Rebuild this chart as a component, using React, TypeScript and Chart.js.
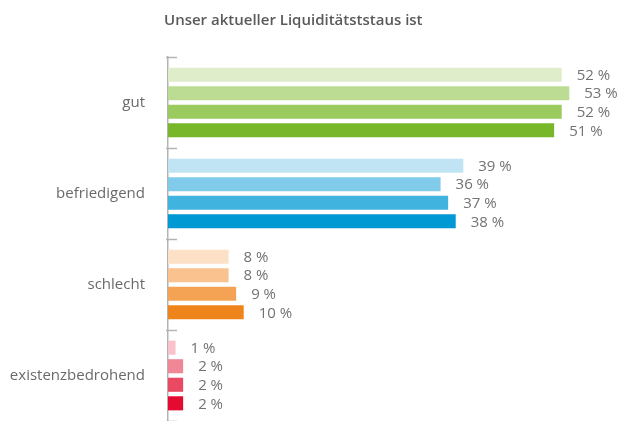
import React, { useEffect, useRef } from "react";
import { Chart, registerables } from "chart.js";

Chart.register(...registerables);

const TITLE = "Unser aktueller Liquiditätststaus ist";
const categories = ["gut", "befriedigend", "schlecht", "existenzbedrohend"];
const series1 = [52, 39, 8, 1];
const series2 = [53, 36, 8, 2];
const series3 = [52, 37, 9, 2];
const series4 = [51, 38, 10, 2];
const seriesNames = ["Reihe 1", "Reihe 2", "Reihe 3", "Reihe 4"];
const palette1 = ["#dfedcb", "#c0e4f3", "#fce1c7", "#f8c1cb"];
const palette2 = ["#bcdc93", "#80cbe9", "#f9c28e", "#f08797"];
const palette3 = ["#9bca5e", "#40b3df", "#f4a355", "#ea4962"];
const palette4 = ["#79b72a", "#0099d4", "#f0841c", "#e30b2f"];

const FONT = "'Open Sans', 'DejaVu Sans', sans-serif";

const titlePlugin = {
  id: "customTitle",
  afterDraw(chart: any) {
    const ctx = chart.ctx;
    ctx.save();
    ctx.font = `600 15px ${FONT}`;
    ctx.fillStyle = "#5a5a5a";
    ctx.textAlign = "left";
    ctx.textBaseline = "alphabetic";
    ctx.fillText(TITLE, 164, 25);
    ctx.restore();
  },
};

const tickPlugin = {
  id: "innerTicks",
  afterDraw(chart: any) {
    const y = chart.scales.y;
    const ctx = chart.ctx;
    const band = y.getPixelForValue(1) - y.getPixelForValue(0);
    ctx.save();
    ctx.strokeStyle = "#b4b4b4";
    ctx.lineWidth = 1.5;
    for (let i = 0; i <= categories.length; i++) {
      const py = Math.round(y.getPixelForValue(i) - band / 2) + 0.5;
      ctx.beginPath();
      ctx.moveTo(chart.chartArea.left - 2, py);
      ctx.lineTo(chart.chartArea.left + 9, py);
      ctx.stroke();
    }
    ctx.restore();
  },
};

const valueLabelPlugin = {
  id: "valueLabels",
  afterDatasetsDraw(chart: any) {
    const ctx = chart.ctx;
    ctx.save();
    ctx.font = `15px ${FONT}`;
    ctx.fillStyle = "#727272";
    ctx.textAlign = "left";
    ctx.textBaseline = "middle";
    chart.data.datasets.forEach((ds: any, di: number) => {
      const meta = chart.getDatasetMeta(di);
      meta.data.forEach((bar: any, i: number) => {
        ctx.fillText(`${ds.data[i]} %`, bar.x + 15, bar.y + 1);
      });
    });
    ctx.restore();
  },
};

export default function App() {
  const ref = useRef<HTMLCanvasElement | null>(null);
  useEffect(() => {
    if (!ref.current) return;
    const values = [series1, series2, series3, series4];
    const palettes = [palette1, palette2, palette3, palette4];
    const chart = new Chart(ref.current, {
      type: "bar",
      data: {
        labels: categories,
        datasets: values.map((v, i) => ({
          label: seriesNames[i],
          data: v,
          backgroundColor: palettes[i],
          borderWidth: 0,
          categoryPercentage: 0.815,
          barPercentage: 0.76,
        })),
      },
      options: {
        indexAxis: "y",
        responsive: true,
        maintainAspectRatio: false,
        animation: false,
        layout: { padding: { top: 57, right: 28, bottom: 0, left: 0 } },
        plugins: {
          legend: { display: false },
          title: { display: false },
          tooltip: { enabled: false },
        },
        scales: {
          x: { display: false, min: 0, max: 56 },
          y: {
            afterFit(scale: any) {
              scale.width = 168;
              scale.paddingTop = 0;
              scale.paddingBottom = 0;
            },
            grid: { display: true, drawOnChartArea: false, drawTicks: false },
            border: { display: true, color: "#b4b4b4", width: 1.5 },
            ticks: {
              padding: 23,
              color: "#6a6a6a",
              font: { family: FONT, size: 15, weight: 400 as any },
            },
          },
        },
      },
      plugins: [titlePlugin, tickPlugin, valueLabelPlugin],
    });
    return () => chart.destroy();
  }, []);
  return (
    <div style={{ position: "absolute", left: 0, top: 0, width: 620, height: 421 }}>
      <canvas ref={ref} />
    </div>
  );
}
